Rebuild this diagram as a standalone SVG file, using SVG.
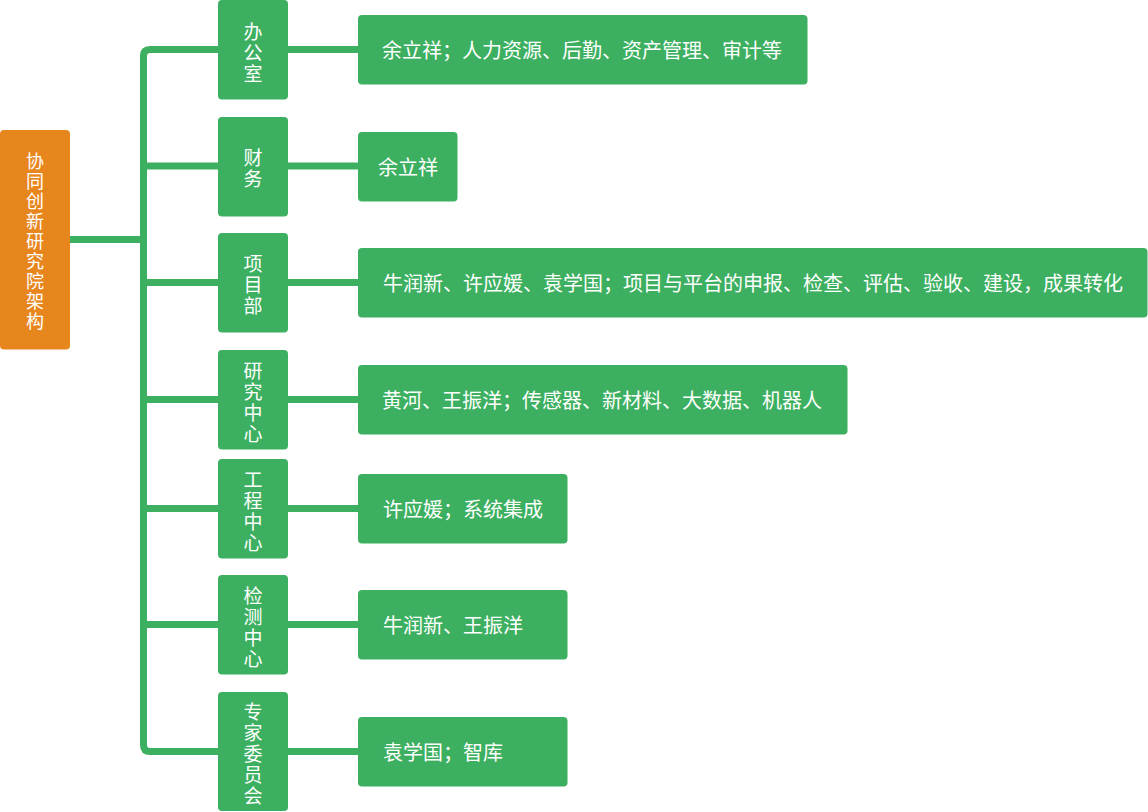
<svg xmlns="http://www.w3.org/2000/svg" width="1148" height="812" viewBox="0 0 1148 812">
<style>
.g{fill:#3CB060}
.o{fill:#E8861E}
.t{fill:#fff;font-family:"Noto Sans CJK SC","Noto Sans",sans-serif;dominant-baseline:central}
.v{font-size:19px;text-anchor:middle}
.r{font-size:18px;text-anchor:middle}
.d{font-size:20px}
.ln{stroke:#3CB060;stroke-width:7;fill:none}
</style>
<rect width="1148" height="812" fill="#fff"/>
<g id="connectors">
<line class="ln" x1="70" y1="239.5" x2="144" y2="239.5"/>
<path class="ln" d="M218 49.5H150Q143.5 49.5 143.5 56V745Q143.5 751.5 150 751.5H218"/>
<line class="ln" x1="143.5" y1="166" x2="218" y2="166"/>
<line class="ln" x1="143.5" y1="282.5" x2="218" y2="282.5"/>
<line class="ln" x1="143.5" y1="399.5" x2="218" y2="399.5"/>
<line class="ln" x1="143.5" y1="508.5" x2="218" y2="508.5"/>
<line class="ln" x1="143.5" y1="624.5" x2="218" y2="624.5"/>
<line class="ln" x1="288" y1="49.5" x2="358" y2="49.5"/>
<line class="ln" x1="288" y1="166" x2="358" y2="166"/>
<line class="ln" x1="288" y1="282.5" x2="358" y2="282.5"/>
<line class="ln" x1="288" y1="399.5" x2="358" y2="399.5"/>
<line class="ln" x1="288" y1="508.5" x2="358" y2="508.5"/>
<line class="ln" x1="288" y1="624.5" x2="358" y2="624.5"/>
<line class="ln" x1="288" y1="751.5" x2="358" y2="751.5"/>
</g>
<g id="root">
<rect class="o" x="0" y="130" width="70" height="219.5" rx="4"/>
<text class="t r" x="35"><tspan x="35" y="159.5">协</tspan><tspan x="35" y="179.5">同</tspan><tspan x="35" y="199.5">创</tspan><tspan x="35" y="219.5">新</tspan><tspan x="35" y="239.5">研</tspan><tspan x="35" y="259.5">究</tspan><tspan x="35" y="279.5">院</tspan><tspan x="35" y="299.5">架</tspan><tspan x="35" y="319.5">构</tspan></text>
</g>
<g id="dept-office">
<rect class="g" x="218" y="0" width="70" height="99.5" rx="4"/>
<text class="t v"><tspan x="253" y="29.5">办</tspan><tspan x="253" y="50.5">公</tspan><tspan x="253" y="71.5">室</tspan></text>
</g>
<g id="dept-finance">
<rect class="g" x="218" y="117" width="70" height="99.5" rx="4"/>
<text class="t v"><tspan x="253" y="156">财</tspan><tspan x="253" y="177">务</tspan></text>
</g>
<g id="dept-project">
<rect class="g" x="218" y="233" width="70" height="99.5" rx="4"/>
<text class="t v"><tspan x="253" y="262">项</tspan><tspan x="253" y="283">目</tspan><tspan x="253" y="304">部</tspan></text>
</g>
<g id="dept-research">
<rect class="g" x="218" y="350" width="70" height="99.5" rx="4"/>
<text class="t v"><tspan x="253" y="368.5">研</tspan><tspan x="253" y="389.5">究</tspan><tspan x="253" y="410.5">中</tspan><tspan x="253" y="431.5">心</tspan></text>
</g>
<g id="dept-engineering">
<rect class="g" x="218" y="459" width="70" height="99.5" rx="4"/>
<text class="t v"><tspan x="253" y="477.5">工</tspan><tspan x="253" y="498.5">程</tspan><tspan x="253" y="519.5">中</tspan><tspan x="253" y="540.5">心</tspan></text>
</g>
<g id="dept-testing">
<rect class="g" x="218" y="575" width="70" height="99.5" rx="4"/>
<text class="t v"><tspan x="253" y="593.5">检</tspan><tspan x="253" y="614.5">测</tspan><tspan x="253" y="635.5">中</tspan><tspan x="253" y="656.5">心</tspan></text>
</g>
<g id="dept-experts">
<rect class="g" x="218" y="692" width="70" height="119" rx="4"/>
<text class="t v"><tspan x="253" y="709.5">专</tspan><tspan x="253" y="730.5">家</tspan><tspan x="253" y="751.5">委</tspan><tspan x="253" y="772.5">员</tspan><tspan x="253" y="793.5">会</tspan></text>
</g>
<g id="detail-office">
<rect class="g" x="358" y="15" width="449.5" height="69.5" rx="4"/>
<text class="t d" x="382" y="49.5">余立祥；人力资源、后勤、资产管理、审计等</text>
</g>
<g id="detail-finance">
<rect class="g" x="358" y="132" width="99.5" height="69.5" rx="4"/>
<text class="t d" x="378" y="166">余立祥</text>
</g>
<g id="detail-project">
<rect class="g" x="358" y="248" width="789.5" height="69.5" rx="4"/>
<text class="t d" x="383" y="282.5">牛润新、许应媛、袁学国；项目与平台的申报、检查、评估、验收、建设，成果转化</text>
</g>
<g id="detail-research">
<rect class="g" x="358" y="365" width="489.5" height="69.5" rx="4"/>
<text class="t d" x="382" y="399.5">黄河、王振洋；传感器、新材料、大数据、机器人</text>
</g>
<g id="detail-engineering">
<rect class="g" x="358" y="474" width="209.5" height="69.5" rx="4"/>
<text class="t d" x="383" y="508.5">许应媛；系统集成</text>
</g>
<g id="detail-testing">
<rect class="g" x="358" y="590" width="209.5" height="69.5" rx="4"/>
<text class="t d" x="383" y="624.5">牛润新、王振洋</text>
</g>
<g id="detail-experts">
<rect class="g" x="358" y="717" width="209.5" height="69.5" rx="4"/>
<text class="t d" x="383" y="751.5">袁学国；智库</text>
</g>
</svg>
